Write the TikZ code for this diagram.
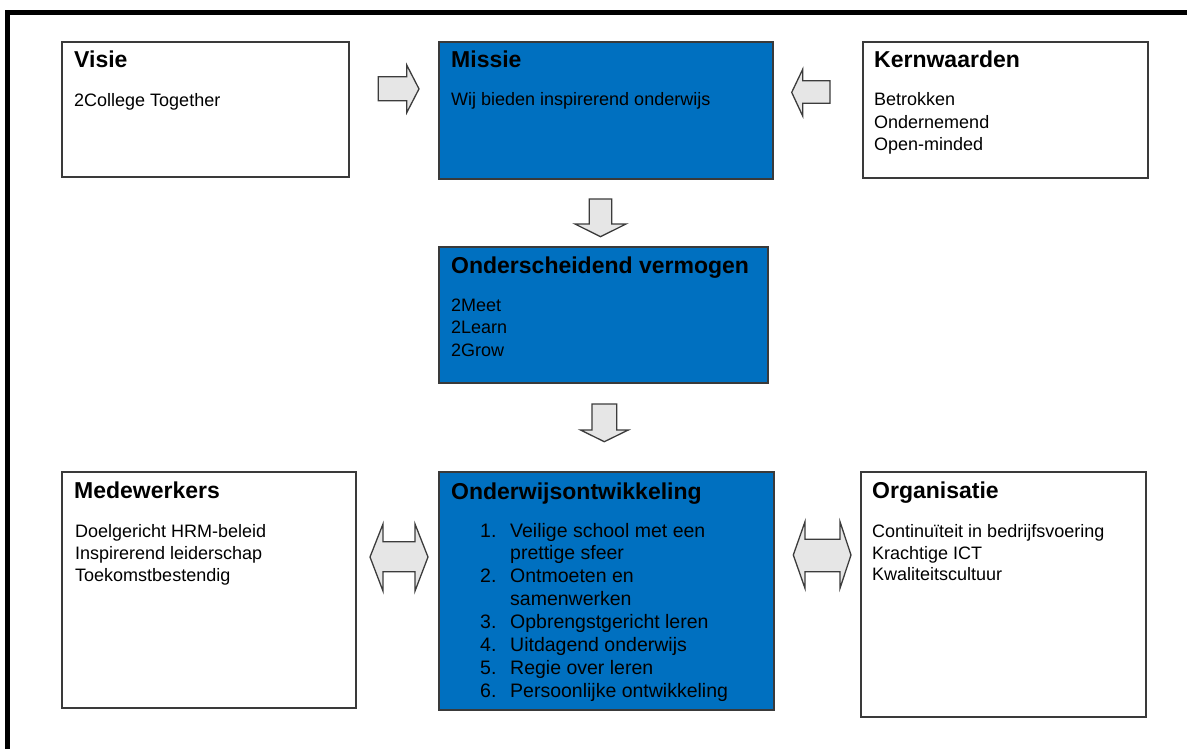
\documentclass[tikz,border=0pt]{standalone}
\usepackage{fontspec}
\setmainfont{Liberation Sans}
\definecolor{mblue}{HTML}{0070C0}
\definecolor{boxline}{HTML}{3A3A3A}
\definecolor{arrowline}{HTML}{3C3C3C}
\definecolor{arrowfill}{HTML}{E6E6E6}
\tikzset{
  box/.style={draw=boxline, line width=1.6pt, anchor=north west, inner sep=0pt, rectangle},
  bluebox/.style={box, fill=mblue},
  ttl/.style={anchor=base west, inner sep=0pt, font=\fontsize{23}{27}\selectfont\bfseries},
  txt/.style={anchor=base west, inner sep=0pt, font=\fontsize{18}{22}\selectfont},
  lst/.style={anchor=base west, inner sep=0pt, font=\fontsize{19.5}{23}\selectfont},
  blockarrow/.style={draw=arrowline, line width=1.3pt, fill=arrowfill, line join=miter},
  frameline/.style={line width=4.6pt, draw=black}
}
\begin{document}
\begin{tikzpicture}[x=1pt, y=-1pt]
\clip (0,0) rectangle (1187,749);
\useasboundingbox (0,0) rectangle (1187,749);
% outer frame (right and bottom sides lie outside the picture)
\draw[frameline] (7.3,770) -- (7.3,12.5) -- (1210,12.5);

% boxes
\node[box, minimum width=287pt, minimum height=135pt] (visie) at (61,41) {};
\node[bluebox, minimum width=334pt, minimum height=137pt] (missie) at (438,41) {};
\node[box, minimum width=285pt, minimum height=136pt] (kern) at (862,41) {};
\node[bluebox, minimum width=329pt, minimum height=136pt] (onders) at (438,246) {};
\node[box, minimum width=294pt, minimum height=236pt] (medew) at (61,471) {};
\node[bluebox, minimum width=335pt, minimum height=238pt] (onderw) at (438,471) {};
\node[box, minimum width=285pt, minimum height=245pt] (organ) at (860,471) {};

% texts
\node[ttl] (visieT) at (74,68) {Visie};
\node[txt] (visie1) at (74,107) {2College Together};

\node[ttl] (missieT) at (451,68) {Missie};
\node[txt] (missie1) at (451,106) {Wij bieden inspirerend onderwijs};

\node[ttl] (kernT) at (874,68) {Kernwaarden};
\node[txt] (kern1) at (874,106) {Betrokken};
\node[txt] (kern2) at (874,128.5) {Ondernemend};
\node[txt] (kern3) at (874,151) {Open-minded};

\node[ttl] (ondersT) at (451,273) {Onderscheidend vermogen};
\node[txt] (onders1) at (451,311) {2Meet};
\node[txt] (onders2) at (451,333.5) {2Learn};
\node[txt] (onders3) at (451,356) {2Grow};

\node[ttl] (medewT) at (74,498) {Medewerkers};
\node[txt] (medew1) at (75,537) {Doelgericht HRM-beleid};
\node[txt] (medew2) at (75,559) {Inspirerend leiderschap};
\node[txt] (medew3) at (75,581) {Toekomstbestendig};

\node[ttl] (onderwT) at (451,499) {Onderwijsontwikkeling};
\node[lst] (n1) at (480,537) {1.};
\node[lst] (l1a) at (510,537) {Veilige school met een};
\node[lst] (l1b) at (510,559.9) {prettige sfeer};
\node[lst] (n2) at (480,582.7) {2.};
\node[lst] (l2a) at (510,582.7) {Ontmoeten en};
\node[lst] (l2b) at (510,605.6) {samenwerken};
\node[lst] (n3) at (480,628.4) {3.};
\node[lst] (l3) at (510,628.4) {Opbrengstgericht leren};
\node[lst] (n4) at (480,651.3) {4.};
\node[lst] (l4) at (510,651.3) {Uitdagend onderwijs};
\node[lst] (n5) at (480,674.2) {5.};
\node[lst] (l5) at (510,674.2) {Regie over leren};
\node[lst] (n6) at (480,697) {6.};
\node[lst] (l6) at (510,697) {Persoonlijke ontwikkeling};

\node[ttl] (organT) at (872,498) {Organisatie};
\node[txt] (organ1) at (872,537) {Continuïteit in bedrijfsvoering};
\node[txt] (organ2) at (872,559) {Krachtige ICT};
\node[txt] (organ3) at (872,580) {Kwaliteitscultuur};

% block arrows
% Visie -> Missie
\draw[blockarrow] (378.3,76.7) -- (406.7,76.7) -- (406.7,65) -- (419,88.9) -- (406.7,112.7) -- (406.7,100.7) -- (378.3,100.7) -- cycle;
% Kernwaarden -> Missie
\draw[blockarrow] (830,80.7) -- (802.7,80.7) -- (802.7,69.3) -- (791.7,92.4) -- (802.7,116) -- (802.7,103.3) -- (830,103.3) -- cycle;
% Missie -> Onderscheidend vermogen
\draw[blockarrow] (589.3,199) -- (611.7,199) -- (611.7,224) -- (626,224) -- (600.5,236.7) -- (575,224) -- (589.3,224) -- cycle;
% Onderscheidend vermogen -> Onderwijsontwikkeling
\draw[blockarrow] (591.9,404) -- (616.7,404) -- (616.7,430) -- (628.3,430) -- (604.3,441.7) -- (580.5,430) -- (591.9,430) -- cycle;
% Medewerkers <-> Onderwijsontwikkeling
\draw[blockarrow] (370,557) -- (383,524) -- (383,541.7) -- (415,541.7) -- (415,524) -- (428,557) -- (415,591) -- (415,571.7) -- (383,571.7) -- (383,591) -- cycle;
% Onderwijsontwikkeling <-> Organisatie
\draw[blockarrow] (793.3,555) -- (805,521.7) -- (805,539.3) -- (840,539.3) -- (840,521.7) -- (851,555) -- (840,588.3) -- (840,571.7) -- (805,571.7) -- (805,588.3) -- cycle;
\end{tikzpicture}
\end{document}
